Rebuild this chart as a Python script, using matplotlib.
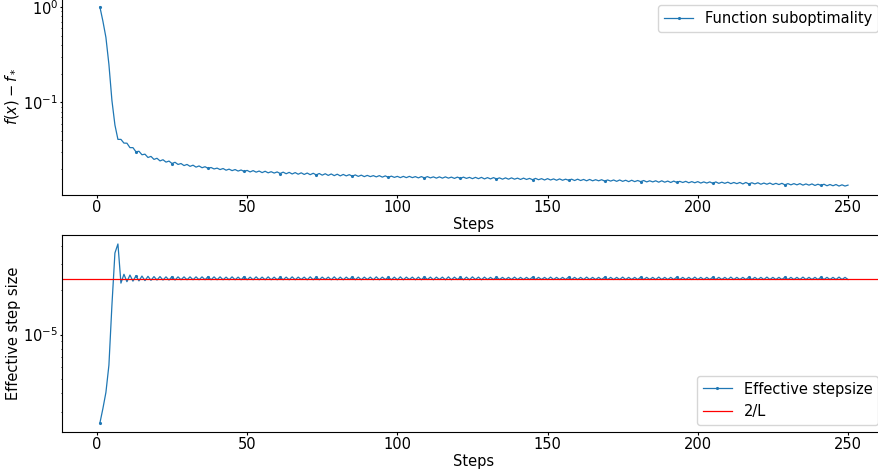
import numpy as np
import matplotlib
matplotlib.use("Agg")
import matplotlib.pyplot as plt

# function suboptimality f(x) - f_* for steps 1..250
suboptimality = [
    1.0, 0.71, 0.48, 0.25, 0.105, 0.058, 0.0410, 0.0410, 0.0375, 0.0374,
    0.0336, 0.0336, 0.0304, 0.0308, 0.0283, 0.0287, 0.0265, 0.0272, 0.0253, 0.0260,
    0.0244, 0.0251, 0.0237, 0.0243, 0.0229, 0.0236, 0.0224, 0.0229, 0.0218, 0.0224,
    0.0214, 0.0220, 0.0210, 0.0216, 0.0207, 0.0212, 0.0204, 0.0208, 0.0201, 0.0205,
    0.0198, 0.0203, 0.0195, 0.0200, 0.0193, 0.0198, 0.0191, 0.0196, 0.0189, 0.0194,
    0.0187, 0.0193, 0.0186, 0.0191, 0.0184, 0.0190, 0.0183, 0.0188, 0.0182, 0.0187,
    0.0180, 0.0186, 0.0179, 0.0185, 0.0178, 0.0184, 0.0177, 0.0183, 0.0176, 0.0182,
    0.0175, 0.0181, 0.0174, 0.0180, 0.0173, 0.0179, 0.0172, 0.0178, 0.0171, 0.0177,
    0.0170, 0.0176, 0.0170, 0.0175, 0.0169, 0.0174, 0.0168, 0.0173, 0.0167, 0.0172,
    0.0167, 0.0171, 0.0166, 0.0171, 0.0165, 0.0170, 0.0164, 0.0169, 0.0164, 0.0168,
    0.0163, 0.0168, 0.0163, 0.0168, 0.0163, 0.0167, 0.0162, 0.0167, 0.0162, 0.0167,
    0.0162, 0.0166, 0.0161, 0.0166, 0.0161, 0.0166, 0.0161, 0.0165, 0.0160, 0.0165,
    0.0160, 0.0165, 0.0160, 0.0164, 0.0159, 0.0164, 0.0159, 0.0164, 0.0158, 0.0163,
    0.0158, 0.0163, 0.0158, 0.0162, 0.0157, 0.0162, 0.0157, 0.0162, 0.0157, 0.0161,
    0.0156, 0.0161, 0.0156, 0.0160, 0.0155, 0.0160, 0.0155, 0.0159, 0.0154, 0.0159,
    0.0154, 0.0158, 0.0153, 0.0158, 0.0153, 0.0157, 0.0153, 0.0157, 0.0152, 0.0157,
    0.0152, 0.0156, 0.0151, 0.0156, 0.0151, 0.0155, 0.0151, 0.0155, 0.0150, 0.0154,
    0.0150, 0.0154, 0.0149, 0.0154, 0.0149, 0.0153, 0.0148, 0.0153, 0.0148, 0.0152,
    0.0148, 0.0152, 0.0147, 0.0151, 0.0147, 0.0151, 0.0146, 0.0151, 0.0146, 0.0150,
    0.0145, 0.0150, 0.0145, 0.0149, 0.0145, 0.0149, 0.0144, 0.0148, 0.0144, 0.0148,
    0.0143, 0.0147, 0.0143, 0.0147, 0.0142, 0.0147, 0.0142, 0.0146, 0.0142, 0.0146,
    0.0141, 0.0145, 0.0141, 0.0145, 0.0140, 0.0145, 0.0140, 0.0144, 0.0140, 0.0144,
    0.0139, 0.0143, 0.0139, 0.0143, 0.0138, 0.0142, 0.0138, 0.0142, 0.0137, 0.0141,
    0.0137, 0.0141, 0.0137, 0.0141, 0.0136, 0.0140, 0.0136, 0.0140, 0.0135, 0.0139,
    0.0135, 0.0139, 0.0134, 0.0138, 0.0134, 0.0138, 0.0133, 0.0137, 0.0133, 0.0136,
]

# effective step size, in units of 1e-5
stepsize_e5 = [
    0.251, 0.315, 0.405, 0.62, 1.58, 3.57, 4.11, 2.23, 2.56, 2.28,
    2.53, 2.30, 2.50, 2.31, 2.49, 2.32, 2.48, 2.33, 2.47, 2.34,
    2.47, 2.34, 2.46, 2.34, 2.47, 2.34, 2.46, 2.35, 2.46, 2.35,
    2.46, 2.35, 2.46, 2.35, 2.46, 2.35, 2.47, 2.35, 2.46, 2.35,
    2.46, 2.35, 2.45, 2.35, 2.46, 2.35, 2.45, 2.35, 2.47, 2.35,
    2.45, 2.35, 2.46, 2.35, 2.45, 2.35, 2.46, 2.35, 2.45, 2.35,
    2.45, 2.35, 2.45, 2.35, 2.46, 2.35, 2.45, 2.36, 2.45, 2.35,
    2.46, 2.35, 2.45, 2.35, 2.45, 2.36, 2.45, 2.35, 2.46, 2.35,
    2.45, 2.35, 2.45, 2.36, 2.46, 2.35, 2.45, 2.35, 2.45, 2.36,
    2.45, 2.35, 2.46, 2.35, 2.45, 2.36, 2.45, 2.35, 2.45, 2.35,
    2.46, 2.35, 2.45, 2.36, 2.45, 2.35, 2.45, 2.35, 2.46, 2.36,
    2.45, 2.35, 2.45, 2.36, 2.45, 2.35, 2.46, 2.35, 2.45, 2.36,
    2.45, 2.35, 2.45, 2.35, 2.46, 2.36, 2.45, 2.35, 2.45, 2.36,
    2.44, 2.36, 2.45, 2.36, 2.44, 2.36, 2.44, 2.36, 2.45, 2.36,
    2.44, 2.36, 2.44, 2.36, 2.45, 2.36, 2.44, 2.36, 2.44, 2.36,
    2.45, 2.36, 2.44, 2.36, 2.44, 2.36, 2.45, 2.36, 2.44, 2.36,
    2.44, 2.36, 2.45, 2.36, 2.44, 2.36, 2.44, 2.36, 2.45, 2.36,
    2.44, 2.36, 2.44, 2.36, 2.45, 2.36, 2.44, 2.36, 2.44, 2.36,
    2.45, 2.36, 2.44, 2.36, 2.44, 2.36, 2.45, 2.36, 2.44, 2.36,
    2.44, 2.36, 2.45, 2.36, 2.44, 2.36, 2.44, 2.36, 2.45, 2.36,
    2.44, 2.36, 2.44, 2.36, 2.45, 2.36, 2.44, 2.36, 2.44, 2.36,
    2.45, 2.36, 2.44, 2.36, 2.44, 2.36, 2.45, 2.36, 2.44, 2.36,
    2.44, 2.36, 2.45, 2.36, 2.44, 2.36, 2.44, 2.36, 2.45, 2.36,
    2.44, 2.36, 2.44, 2.36, 2.45, 2.36, 2.44, 2.36, 2.44, 2.36,
    2.45, 2.36, 2.44, 2.36, 2.44, 2.36, 2.45, 2.36, 2.44, 2.36,
]
two_over_L = 2.38e-5

steps = np.arange(1, len(suboptimality) + 1)
stepsize = np.array(stepsize_e5) * 1e-5

# short ticks, tight padding (the original looks like a downscaled render)
plt.rcParams["font.size"] = 10.5
plt.rcParams["xtick.major.size"] = 1.8
plt.rcParams["ytick.major.size"] = 1.8
plt.rcParams["xtick.minor.size"] = 1.0
plt.rcParams["ytick.minor.size"] = 1.0
plt.rcParams["xtick.major.pad"] = 1.5
plt.rcParams["ytick.major.pad"] = 1.2
plt.rcParams["axes.labelpad"] = 1.5

fig = plt.figure(figsize=(8.79, 4.69), dpi=100)
# axes run slightly past the right/top edge like the cropped original
ax1 = fig.add_axes([0.0711, 0.5842, 0.9362, 0.4200])
ax2 = fig.add_axes([0.0711, 0.0789, 0.9362, 0.4200])

ax1.plot(steps, suboptimality, '.-', lw=0.9, ms=2.5, markevery=12,
         label="Function suboptimality")
ax1.set_yscale("log")
ax1.set_xlabel("Steps")
ax1.set_ylabel(r"$f(x) - f_*$")
ax1.legend(loc="upper right")

ax2.plot(steps, stepsize, '.-', lw=0.9, ms=2.5, markevery=12,
         label="Effective stepsize")
ax2.axhline(two_over_L, color="red", lw=0.9, label="2/L")
ax2.set_yscale("log")
ax2.set_xlabel("Steps")
ax2.set_ylabel("Effective step size")
ax2.legend(loc="lower right")

fig.savefig("out.png", dpi=100)
